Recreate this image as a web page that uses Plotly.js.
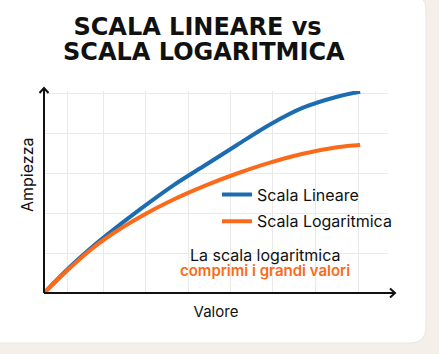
<!DOCTYPE html>
<html>
<head>
<meta charset="utf-8">
<script src="https://cdn.plot.ly/plotly-3.0.1.min.js"></script>
<style>html,body{margin:0;padding:0;background:#f4efe9;}#chart{width:439px;height:354px;}</style>
</head>
<body>
<div id="chart"></div>
<script>
// Data (x: Valore 0-100, y: Ampiezza 0-100)
const valore = [0, 7.6, 13.4, 18.3, 27.9, 37.5, 47.4, 56.1, 65.7, 75.3, 85.2, 91.9];
const scalaLineare = [0, 13.15, 22.15, 29.1, 41.8, 53.7, 64.5, 74, 84.25, 92.65, 98.15, 100.65];
const scalaLogaritmica = [0, 12.6, 21.4, 27.75, 38, 46.6, 54.05, 59.75, 65.2, 69.65, 72.9, 74.05];
const seriesNames = ["Scala Lineare", "Scala Logaritmica"];
const gridX = [6.7, 17.4, 29.4, 41.9, 54.1, 66.3, 78.8, 91.3];
const gridY = [20, 40, 60, 80, 100];

const BLUE = "#1b6cb0", ORANGE = "#fb6a1a", INK = "#111111";
const FW = 439, FH = 354;
const L = 44, T = 91, R = 388, B = 293;
const W = R - L, H = B - T;
const px = v => (v - L) / W;
const py = v => (B - v) / H;

function rrect(x0, y0, x1, y1, r) {
  const p = (x, y) => px(x) + "," + py(y);
  return "M" + p(x0 + r, y0) + " L" + p(x1 - r, y0) +
    " Q" + p(x1, y0) + " " + p(x1, y0 + r) +
    " L" + p(x1, y1 - r) + " Q" + p(x1, y1) + " " + p(x1 - r, y1) +
    " L" + p(x0 + r, y1) + " Q" + p(x0, y1) + " " + p(x0, y1 - r) +
    " L" + p(x0, y0 + r) + " Q" + p(x0, y0) + " " + p(x0 + r, y0) + " Z";
}
function pth(pts) {
  return pts.map((q, i) => (i ? "L" : "M") + px(q[0]) + "," + py(q[1])).join(" ");
}

const traces = [
  {x: valore, y: scalaLineare, name: seriesNames[0], type: "scatter", mode: "lines",
   line: {color: BLUE, width: 4, shape: "spline", smoothing: 1}, legendgroup: "a"},
  {x: valore, y: scalaLogaritmica, name: seriesNames[1], type: "scatter", mode: "lines",
   line: {color: ORANGE, width: 4, shape: "spline", smoothing: 1}, legendgroup: "b"}
];

const TITLE_FONT = {family: "'DejaVu Sans', sans-serif", size: 24, color: INK, weight: 700};
const axLine = {color: INK, width: 2};
const layout = {
  width: FW, height: FH,
  margin: {l: L, r: FW - R, t: T, b: FH - B, pad: 0},
  paper_bgcolor: "#f4efe9",
  plot_bgcolor: "rgba(0,0,0,0)",
  font: {family: "Inter, Roboto, sans-serif", color: INK},
  title: {
    text: "SCALA LINEARE vs",
    font: TITLE_FONT,
    x: 197.5 / FW, xanchor: "center", xref: "container",
    y: 1 - 26.7 / FH, yanchor: "middle", yref: "container"
  },
  xaxis: {
    range: [0, 100], tickvals: gridX, showticklabels: false, ticks: "",
    showgrid: true, gridcolor: "#ebe9e6", gridwidth: 1, zeroline: false, showline: false,
    fixedrange: true,
    title: {text: "Valore", font: {size: 15, color: INK}, standoff: 13}
  },
  yaxis: {
    range: [0, 101], tickvals: gridY, showticklabels: false, ticks: "",
    showgrid: true, gridcolor: "#ebe9e6", gridwidth: 1, zeroline: false, showline: false,
    fixedrange: true
  },
  showlegend: true,
  legend: {
    x: px(217), y: py(177.5), xanchor: "left", yanchor: "top",
    bgcolor: "rgba(0,0,0,0)", font: {size: 16, color: INK},
    traceorder: "grouped", tracegroupgap: 3, itemwidth: 30
  },
  shapes: [
    {type: "path", xref: "paper", yref: "paper", layer: "below",
     path: rrect(-20, -6, 426, 343, 16), fillcolor: "#ffffff", line: {color: "#ece6df", width: 1}},
    {type: "path", xref: "paper", yref: "paper", path: pth([[44, 293], [44, 88]]), line: axLine},
    {type: "path", xref: "paper", yref: "paper", path: pth([[39.5, 93], [44, 88], [48.5, 93]]), line: axLine},
    {type: "path", xref: "paper", yref: "paper", path: pth([[44, 293], [395, 293]]), line: axLine},
    {type: "path", xref: "paper", yref: "paper", path: pth([[390, 288.5], [395, 293], [390, 297.5]]), line: axLine}
  ],
  annotations: [
    {xref: "paper", yref: "paper", x: px(204), y: py(51.7), xanchor: "center", yanchor: "middle",
     text: "SCALA LOGARITMICA", showarrow: false, font: TITLE_FONT},
    {xref: "paper", yref: "paper", x: px(27), y: py(175), xanchor: "center", yanchor: "middle",
     text: "Ampiezza", textangle: -90, showarrow: false, font: {size: 16, color: INK}},
    {xref: "paper", yref: "paper", x: px(265), y: py(254.5), xanchor: "center", yanchor: "middle",
     text: "La scala logaritmica", showarrow: false, font: {size: 16, color: INK}},
    {xref: "paper", yref: "paper", x: px(265), y: py(270.5), xanchor: "center", yanchor: "middle",
     text: "comprimi i grandi valori", showarrow: false, font: {size: 15, color: ORANGE, weight: 600}}
  ]
};

Plotly.newPlot("chart", traces, layout, {displayModeBar: false, staticPlot: true});
</script>
</body>
</html>
